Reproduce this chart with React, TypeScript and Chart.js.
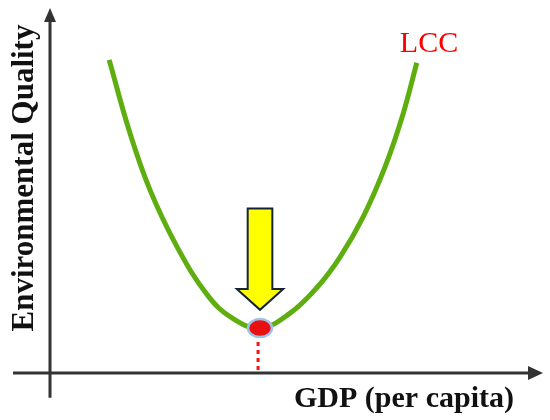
import React, { useEffect, useRef } from "react";
import { Chart, registerables } from "chart.js";

Chart.register(...registerables);

// LCC curve: GDP (per capita) vs Environmental Quality (arbitrary units)
const gdp = [1.2, 1.62, 2.03, 2.58, 3.19, 3.69, 4.26, 4.87, 5.42, 5.88, 6.35, 6.8, 7.16, 7.44];
const quality = [8.58, 6.58, 5.01, 3.45, 2.14, 1.51, 1.23, 1.64, 2.35, 3.17, 4.27, 5.66, 7.09, 8.5];

// turning point (minimum of the curve)
const turningX = [4.26];
const turningY = [1.23];

// dotted drop line from the turning point to the GDP axis
const dropX = [4.22, 4.22];
const dropY = [0.85, 0.08];

// block arrow pointing at the turning point
const arrowX = [4.01, 4.51, 4.51, 4.73, 4.26, 3.79, 4.01];
const arrowY = [4.51, 4.51, 2.3, 2.3, 1.73, 2.3, 2.3];

// axis extents
const xAxisRange = [-0.75, 10];
const yAxisRange = [-0.68, 10];

const curveLabel = "LCC";
const xTitle = "GDP (per capita)";
const yTitle = "Environmental Quality";

const decorPlugin = {
  id: "decor",
  beforeDatasetsDraw(chart: any) {
    const { ctx, scales } = chart;
    const xs = scales.x;
    const ys = scales.y;
    ctx.save();
    ctx.strokeStyle = "#333333";
    ctx.fillStyle = "#333333";
    ctx.lineWidth = 3;
    // x axis
    const y0 = ys.getPixelForValue(0);
    const xa = xs.getPixelForValue(xAxisRange[0]);
    const xb = xs.getPixelForValue(xAxisRange[1]);
    ctx.beginPath();
    ctx.moveTo(xa, y0);
    ctx.lineTo(xb - 12, y0);
    ctx.stroke();
    ctx.beginPath();
    ctx.moveTo(xb, y0);
    ctx.lineTo(xb - 15, y0 - 7);
    ctx.lineTo(xb - 15, y0 + 7);
    ctx.closePath();
    ctx.fill();
    // y axis
    const x0 = xs.getPixelForValue(0);
    const ya = ys.getPixelForValue(yAxisRange[0]);
    const yb = ys.getPixelForValue(yAxisRange[1]);
    ctx.beginPath();
    ctx.moveTo(x0, ya);
    ctx.lineTo(x0, yb + 12);
    ctx.stroke();
    ctx.beginPath();
    ctx.moveTo(x0, yb);
    ctx.lineTo(x0 - 6, yb + 14);
    ctx.lineTo(x0 + 6, yb + 14);
    ctx.closePath();
    ctx.fill();

    // titles
    ctx.fillStyle = "#111111";
    ctx.font = "bold 30px 'Liberation Serif', 'Times New Roman', serif";
    ctx.textAlign = "center";
    ctx.textBaseline = "alphabetic";
    ctx.fillText(xTitle, 404, 407);
    ctx.save();
    ctx.translate(33, 178);
    ctx.rotate(-Math.PI / 2);
    ctx.font = "bold 31px 'Liberation Serif', 'Times New Roman', serif";
    ctx.fillText(yTitle, 0, 0);
    ctx.restore();

    // curve label
    ctx.fillStyle = "#ff0000";
    ctx.font = "30px 'Liberation Serif', 'Times New Roman', serif";
    ctx.textAlign = "center";
    ctx.fillText(curveLabel, 429, 52);
    ctx.restore();
  },
  afterDatasetsDraw(chart: any) {
    const { ctx, scales } = chart;
    const xs = scales.x;
    const ys = scales.y;
    ctx.save();
    // block arrow
    ctx.beginPath();
    arrowX.forEach((v, i) => {
      const px = xs.getPixelForValue(v);
      const py = ys.getPixelForValue(arrowY[i]);
      if (i === 0) ctx.moveTo(px, py);
      else ctx.lineTo(px, py);
    });
    ctx.closePath();
    ctx.fillStyle = "#ffff00";
    ctx.fill();
    ctx.lineWidth = 2;
    ctx.lineJoin = "miter";
    ctx.strokeStyle = "#14233a";
    ctx.stroke();

    // turning point ellipse
    const cx = xs.getPixelForValue(turningX[0]);
    const cy = ys.getPixelForValue(turningY[0]);
    ctx.beginPath();
    ctx.ellipse(cx, cy, 12, 9, 0, 0, Math.PI * 2);
    ctx.fillStyle = "#e81010";
    ctx.fill();
    ctx.lineWidth = 2.5;
    ctx.strokeStyle = "#9fc3e8";
    ctx.stroke();
    ctx.restore();
  },
};

export default function App() {
  const ref = useRef<HTMLCanvasElement | null>(null);
  useEffect(() => {
    if (!ref.current) return;
    const chart = new Chart(ref.current, {
      type: "line",
      data: {
        datasets: [
          {
            label: curveLabel,
            data: gdp.map((x, i) => ({ x, y: quality[i] })),
            borderColor: "#5fae10",
            borderWidth: 5,
            pointRadius: 0,
            tension: 0.4,
            borderCapStyle: "butt",
            borderJoinStyle: "round",
            fill: false,
          },
          {
            label: "drop",
            data: dropX.map((x, i) => ({ x, y: dropY[i] })),
            borderColor: "#ff1010",
            borderWidth: 3,
            borderDash: [4, 4],
            pointRadius: 0,
            fill: false,
          },
        ],
      },
      options: {
        responsive: false,
        animation: false,
        events: [],
        layout: { padding: { left: 50, right: 7, top: 8, bottom: 47 } },
        scales: {
          x: { type: "linear", min: 0, max: 10, display: false },
          y: { type: "linear", min: 0, max: 10, display: false },
        },
        plugins: {
          legend: { display: false },
          tooltip: { enabled: false },
          title: { display: false },
        },
      },
      plugins: [decorPlugin],
    });
    return () => chart.destroy();
  }, []);
  return (
    <div style={{ position: "fixed", left: 0, top: 0, width: 550, height: 420, background: "#ffffff" }}>
      <canvas ref={ref} width={550} height={420} style={{ width: 550, height: 420, display: "block" }} />
    </div>
  );
}
